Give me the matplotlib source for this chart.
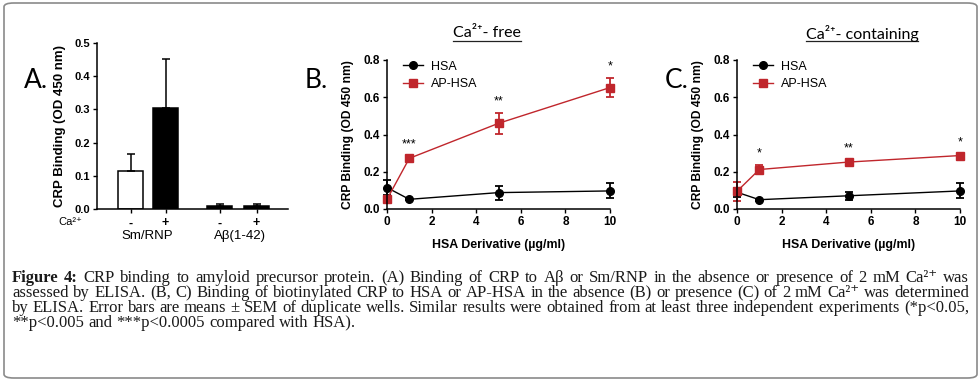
import numpy as np
import matplotlib.pyplot as plt
from matplotlib.patches import FancyBboxPatch
from matplotlib.lines import Line2D

plt.rcParams['font.family'] = ['Liberation Sans', 'DejaVu Sans']

# panel A: bar data
a_ca = ['-', '+', '-', '+']
a_groups = ['Sm/RNP', 'Aβ(1-42)']
a_vals = [0.115, 0.305, 0.008, 0.009]
a_err = [0.05, 0.148, 0.007, 0.007]
a_fill = ['white', 'black', 'black', 'black']

# panels B and C: HSA derivative dose curves
dose = [0, 1, 5, 10]
b_hsa = [0.115, 0.052, 0.088, 0.097]
b_hsa_err = [0.04, 0.006, 0.038, 0.04]
b_ap = [0.052, 0.272, 0.46, 0.652]
b_ap_err = [0.012, 0.012, 0.055, 0.05]
b_stars = ['', '***', '**', '*']

c_hsa = [0.09, 0.05, 0.071, 0.097]
c_hsa_err = [0.025, 0.006, 0.02, 0.04]
c_ap = [0.095, 0.212, 0.252, 0.287]
c_ap_err = [0.05, 0.022, 0.01, 0.008]
c_stars = ['', '*', '**', '*']

caption = [
    "Figure 4: CRP binding to amyloid precursor protein. (A) Binding of CRP to Aβ or Sm/RNP in the absence or presence of 2 mM Ca²⁺ was",
    "assessed by ELISA. (B, C) Binding of biotinylated CRP to HSA or AP-HSA in the absence (B) or presence (C) of 2 mM Ca²⁺ was determined",
    "by ELISA. Error bars are means ± SEM of duplicate wells. Similar results were obtained from at least three independent experiments (*p<0.05,",
    "**p<0.005 and ***p<0.0005 compared with HSA).",
]

RED = '#c0262c'
W, H = 980, 381
fig = plt.figure(figsize=(W / 100, H / 100), dpi=100)


def box(l, t, r, b):
    return [l / W, 1 - b / H, (r - l) / W, (b - t) / H]


def style(ax):
    for s in ['top', 'right']:
        ax.spines[s].set_visible(False)
    for s in ['left', 'bottom']:
        ax.spines[s].set_linewidth(1.1)
    ax.tick_params(length=3, width=1.0, pad=2)


# outer frame
fig.patches.append(FancyBboxPatch((4 / W, 3 / H), 973 / W, 375 / H,
                                  boxstyle='round,pad=0,rounding_size=0.01',
                                  transform=fig.transFigure, fill=False,
                                  edgecolor='#8a8a8a', linewidth=1.2))

# ---- panel A
axA = fig.add_axes(box(97, 43, 288, 209))
style(axA)
pos = [0, 1, 2.55, 3.6]
axA.bar(pos, a_vals, width=0.72, color=a_fill, edgecolor='black', linewidth=1.1, zorder=2)
axA.errorbar(pos, a_vals, yerr=[[0] * 4, a_err], fmt='none', ecolor='black',
             elinewidth=1.1, capsize=3, capthick=1.1, zorder=3)
axA.set_xlim(-0.96, 4.5)
axA.set_ylim(0, 0.5)
axA.set_xticks(pos, labels=a_ca, fontweight='bold', fontsize=9)
axA.set_yticks(np.arange(0, 0.51, 0.1), labels=['%.1f' % v for v in np.arange(0, 0.51, 0.1)],
               fontweight='bold', fontsize=8)
axA.tick_params(axis='x', pad=3)
axA.set_ylabel('CRP Binding (OD 450 nm)', fontweight='bold', fontsize=9.5)
axA.yaxis.set_label_coords(-0.16, 0.5)
fig.text(70 / W, 1 - 222 / H, 'Ca²⁺', ha='center', va='center', fontsize=8)
fig.text(147 / W, 1 - 236 / H, a_groups[0], ha='center', va='center', fontsize=9.5)
fig.text(240 / W, 1 - 236 / H, a_groups[1], ha='center', va='center', fontsize=9.5)


# ---- panels B, C
def dose_panel(ax, hsa, hsa_err, ap, ap_err, stars):
    style(ax)
    handles = []
    for vals, err, col, mk, lab in [(hsa, hsa_err, 'black', 'o', 'HSA'),
                                    (ap, ap_err, RED, 's', 'AP-HSA')]:
        eb = ax.errorbar(dose, vals, yerr=err, color=col, marker=mk, ms=5.5, lw=1.0,
                         elinewidth=1.3, capsize=3, capthick=1.3)
        for art in eb.get_children():
            art.set_clip_on(False)
        handles.append(Line2D([], [], color=col, marker=mk, ms=5.5, lw=1.0, label=lab))
    for x, v, e, s in zip(dose, ap, ap_err, stars):
        if s:
            ax.text(x, v + e + 0.03, s, ha='center', va='bottom', fontsize=9)
    ax.set_xlim(0, 10)
    ax.set_ylim(0, 0.8)
    ax.set_xticks(range(0, 11, 2), labels=[str(v) for v in range(0, 11, 2)],
                  fontweight='bold', fontsize=8.5)
    ax.set_yticks(np.arange(0, 0.81, 0.2), labels=['%.1f' % v for v in np.arange(0, 0.81, 0.2)],
                  fontweight='bold', fontsize=8.5)
    ax.set_ylabel('CRP Binding (OD 450 nm)', fontweight='bold', fontsize=8.7)
    ax.yaxis.set_label_coords(-0.15, 0.5)
    ax.set_xlabel('HSA Derivative (µg/ml)', fontweight='bold', fontsize=8.9)
    ax.xaxis.set_label_coords(0.5, -0.2)
    ax.legend(handles=handles, loc='upper left', bbox_to_anchor=(0.072, 0.995), frameon=False,
              fontsize=9, borderpad=0, borderaxespad=0, handlelength=1.6, handletextpad=0.6,
              labelspacing=0.45)


axB = fig.add_axes(box(387, 60, 610, 209))
dose_panel(axB, b_hsa, b_hsa_err, b_ap, b_ap_err, b_stars)
axC = fig.add_axes(box(737, 60, 960, 209))
dose_panel(axC, c_hsa, c_hsa_err, c_ap, c_ap_err, c_stars)

# panel letters and titles
calibri = ['Lato', 'DejaVu Sans']
for lab, x in [('A.', 24), ('B.', 305), ('C.', 665)]:
    fig.text(x / W, 1 - 80 / H, lab, fontsize=19, family=calibri, va='center')
titles = []
for txt, x in [('Ca²⁺- free', 487), ('Ca²⁺- containing', 862)]:
    titles.append(fig.text(x / W, 1 - 33 / H, txt, ha='center', va='center',
                           fontsize=11.5, family=calibri))

# caption, justified line by line
serif = ['Liberation Serif', 'DejaVu Serif']
fig.canvas.draw()
rend = fig.canvas.get_renderer()
for t in titles:
    bb = t.get_window_extent(rend)
    fig.add_artist(Line2D([bb.x0 / W, bb.x1 / W], [1 - 41 / H] * 2,
                          transform=fig.transFigure, color='#222222', lw=0.9))

fs = 12
x0, x1 = 12, 969
for i, line in enumerate(caption):
    y = 1 - (282 + 15 * i) / H
    words = line.split(' ')
    texts = []
    for j, w in enumerate(words):
        bold = (i == 0 and j < 2)
        texts.append(fig.text(0, y, w, fontsize=fs, family=serif, va='baseline',
                              fontweight='bold' if bold else 'normal', color='#1a1a1a'))
    widths = [t.get_window_extent(rend).width for t in texts]
    if i < len(caption) - 1:
        gap = (x1 - x0 - sum(widths)) / (len(words) - 1)
    else:
        gap = fs * 1.39 * 0.25
    x = x0
    for t, wd in zip(texts, widths):
        t.set_x(x / W)
        x += wd + gap

fig.savefig('out.png', dpi=100)
